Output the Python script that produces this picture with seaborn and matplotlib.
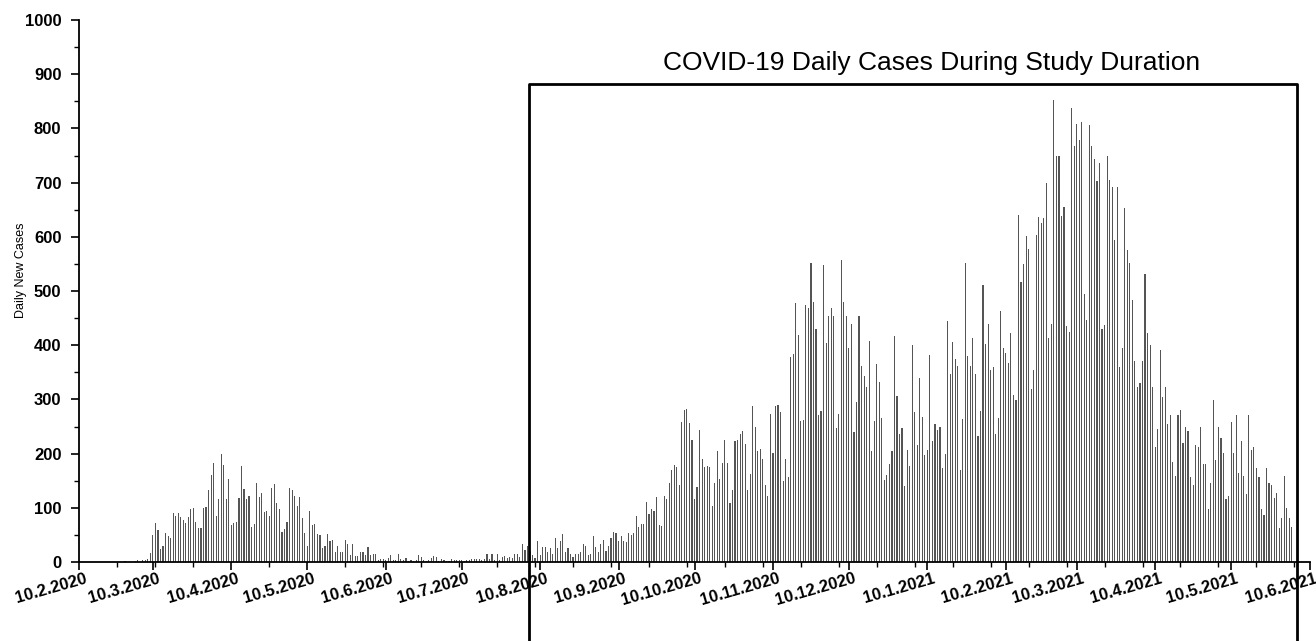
import numpy as np
import pandas as pd
import matplotlib
matplotlib.use("Agg")
import matplotlib.pyplot as plt
import matplotlib.transforms as mtransforms
from matplotlib.ticker import MultipleLocator
import seaborn as sns

# ---------------------------------------------------
# Data: daily new cases, one value per day from START
# ---------------------------------------------------

START = "2020-02-10"
END = "2021-06-10"

cases_feb_2020 = [0, 0, 0, 0, 0, 0, 0, 0, 0, 0, 0, 0, 0, 0, 0, 0, 0, 0,
                  1, 0, 0, 0, 2, 3, 0, 3, 4, 5]

cases_wave1 = [17, 50, 72, 59, 24, 30, 54, 48, 44, 90,
               85, 90, 83, 78, 72, 83, 98, 100, 74, 63,
               63, 100, 101, 133, 160, 183, 85, 116, 199, 179,
               116, 153, 68, 72, 74, 118, 177, 135, 116, 122,
               65, 70, 146, 120, 127, 92, 94, 85, 137, 144,
               109, 98, 55, 61, 74, 137, 133, 122, 104]

cases_summer = [120, 81, 54, 30, 94, 69, 70, 51, 49, 26,
                29, 51, 39, 40, 18, 29, 18, 19, 40, 33,
                13, 33, 11, 11, 19, 18, 13, 28, 13, 14,
                14, 4, 6, 5, 3, 8, 13, 3, 4, 14,
                6, 3, 8, 2, 4, 2, 4, 13, 9, 3,
                2, 3, 8, 12, 9, 2, 5, 4, 2, 2,
                5, 3, 4, 4, 3, 2, 4, 4, 5, 5,
                5, 5, 3, 5, 14, 6, 14, 4, 14, 3,
                10, 12, 8, 10, 8, 14, 14, 9, 33, 23,
                30]

cases_aug_sep = [20, 13, 8, 39, 13, 28, 27, 19, 25, 14, 45,
                 25, 39, 51, 19, 25, 14, 9, 14, 15, 18,
                 33, 30, 13, 14, 48, 27, 19, 33, 40, 20,
                 30, 45, 55, 53, 39, 48, 39, 37, 53, 50,
                 53, 85, 65, 71, 71]

cases_oct = [111, 89, 97, 94, 120, 68, 66, 122, 117, 146,
             170, 179, 175, 143, 259, 280, 283, 257, 226, 117,
             138, 243, 191, 175, 177, 175, 103, 145, 205, 153,
             183, 225, 183, 108, 132, 224, 225, 237, 242, 217,
             132, 163]

cases_nov = [287, 249, 204, 208, 190, 142, 122, 273, 201, 288,
             290, 277, 149, 190, 156, 379, 383, 477, 418, 260,
             262, 475, 469, 552, 480, 430, 271, 279, 548, 405,
             454, 469, 454, 248, 273, 557, 479, 454, 394, 439,
             240, 296, 454]

cases_dec = [362, 343, 322, 408, 205, 260, 365, 333, 266, 151,
             161, 181, 204, 417, 306, 237, 247, 140, 207, 177,
             400, 277, 216, 339, 268, 197, 207, 382, 223, 255,
             244, 249, 173, 200, 445, 347, 406, 375, 362, 169,
             263, 551, 380, 362, 414, 346, 232]

cases_jan_feb = [279, 511, 403, 440, 355, 360, 237, 266, 463, 394,
                 386, 367, 423, 308, 299, 640, 517, 549, 601, 577,
                 319, 354, 603, 637, 626, 634, 699, 414]

cases_peak = [440, 852, 749, 749, 638, 655, 435, 425, 837, 768,
              809, 779, 812, 495, 446, 806, 768, 743, 703, 737,
              429, 437, 749, 705, 691, 595, 691, 360]

cases_decline = [394, 654, 575, 551, 483, 370, 322, 330, 370, 531,
                 423, 400, 322, 212, 245, 391, 305, 323, 255, 271,
                 185, 159, 271, 280, 220, 250, 242]

cases_spring = [156, 142, 216, 212, 249, 181, 180, 97, 146, 299,
                189, 249, 229, 202, 116, 121, 258, 202, 272, 164,
                223, 159, 126, 271, 207, 213, 173, 157, 97, 87,
                173, 145, 142, 119, 128, 63, 82, 159, 100, 82,
                65]

daily_cases = (cases_feb_2020 + cases_wave1 + cases_summer + cases_aug_sep
               + cases_oct + cases_nov + cases_dec + cases_jan_feb
               + cases_peak + cases_decline + cases_spring)

df = pd.DataFrame({"day": np.arange(len(daily_cases)), "cases": daily_cases})

start = pd.Timestamp(START)
end = pd.Timestamp(END)
tick_dates = pd.date_range("2020-02-01", "2021-06-01", freq="MS") + pd.Timedelta(days=9)
tick_pos = [(d - start).days for d in tick_dates]
tick_labels = [f"{d.day}.{d.month}.{d.year}" for d in tick_dates]

# study window (box) and title
study_start = 177.6
study_end = 481.0

# ---------------------------------------------------
# Plot
# ---------------------------------------------------

sns.set_style("ticks")
plt.rcParams["font.family"] = ["Liberation Sans", "DejaVu Sans"]
plt.rcParams["text.color"] = "black"
plt.rcParams["axes.labelcolor"] = "black"
plt.rcParams["xtick.color"] = "black"
plt.rcParams["ytick.color"] = "black"

fig = plt.figure(figsize=(13.16, 6.41), dpi=100)
ax = fig.add_axes([0.0604, 0.1232, 0.9347, 0.8456])

sns.barplot(data=df, x="day", y="cases", native_scale=True, width=0.45,
            color="#555555", saturation=1, errorbar=None, linewidth=0, ax=ax)

ax.set_xlim(0, (end - start).days)
ax.set_ylim(0, 1000)

ax.set_xticks(tick_pos)
ax.set_xticklabels(tick_labels, rotation=16, ha="right", fontweight="bold", fontsize=12)
ax.xaxis.set_minor_locator(MultipleLocator(15))
ax.yaxis.set_major_locator(MultipleLocator(100))
ax.yaxis.set_minor_locator(MultipleLocator(50))
for lab in ax.get_yticklabels():
    lab.set_fontweight("bold")
    lab.set_fontsize(12)

ax.tick_params(axis="both", which="major", length=6, width=1.2, color="black")
ax.tick_params(axis="both", which="minor", length=3.5, width=1.0, color="black")
ax.tick_params(axis="x", which="major", pad=0.5)
ax.tick_params(axis="y", which="major", pad=7)

# shift the rotated date labels a little to the right, like the original
offset = mtransforms.ScaledTranslation(9 / 100, 0, fig.dpi_scale_trans)
for lab in ax.get_xticklabels():
    lab.set_transform(lab.get_transform() + offset)

sns.despine(ax=ax)
for side in ["left", "bottom"]:
    ax.spines[side].set_linewidth(1.3)
    ax.spines[side].set_color("black")

ax.set_xlabel("")
ax.set_ylabel("Daily New Cases", fontsize=9)
ax.yaxis.set_label_coords(-0.043, 0.539)

ax.plot([study_start, study_start, study_end, study_end], [-170, 882, 882, -170],
        color="black", lw=2, clip_on=False)
ax.text(336.5, 921, "COVID-19 Daily Cases During Study Duration",
        ha="center", va="center", fontsize=19, color="black")

fig.savefig("out.png", dpi=100)
